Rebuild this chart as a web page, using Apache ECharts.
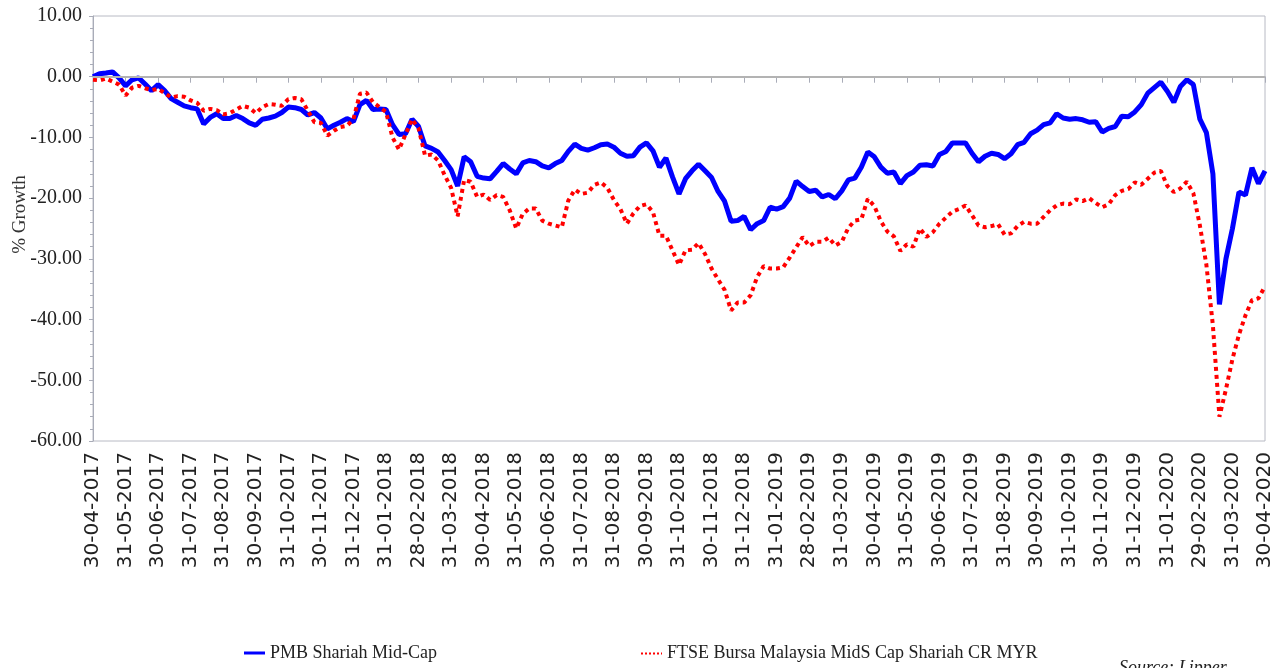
<!DOCTYPE html>
<html>
<head>
<meta charset="utf-8">
<script src="https://cdn.jsdelivr.net/npm/echarts@6/dist/echarts.min.js"></script>
<style>
  html, body { margin: 0; padding: 0; background: #fff; }
  #chart { width: 1285px; height: 668px; }
</style>
</head>
<body>
<div id="chart"></div>
<script>
// month-end tick labels, one every 5 points
const monthLabels = [
  '30-04-2017', '31-05-2017', '30-06-2017', '31-07-2017', '31-08-2017', '30-09-2017',
  '31-10-2017', '30-11-2017', '31-12-2017', '31-01-2018', '28-02-2018', '31-03-2018',
  '30-04-2018', '31-05-2018', '30-06-2018', '31-07-2018', '31-08-2018', '30-09-2018',
  '31-10-2018', '30-11-2018', '31-12-2018', '31-01-2019', '28-02-2019', '31-03-2019',
  '30-04-2019', '31-05-2019', '30-06-2019', '31-07-2019', '31-08-2019', '30-09-2019',
  '31-10-2019', '30-11-2019', '31-12-2019', '31-01-2020', '29-02-2020', '31-03-2020',
  '30-04-2020'
]
const POINTS_PER_MONTH = 5

const pmbShariahMidCap = [
  0.0, 0.5, 0.6, 0.8, -0.2, -1.5, -0.5, -0.2, -1.2, -2.3,
  -1.3, -2.3, -3.6, -4.2, -4.8, -5.1, -5.3, -7.8, -6.7, -6.1,
  -6.9, -6.9, -6.4, -6.9, -7.6, -8.0, -7.0, -6.8, -6.5, -5.9,
  -5.0, -5.1, -5.4, -6.3, -5.9, -6.8, -8.6, -8.0, -7.5, -6.9,
  -7.4, -4.6, -3.9, -5.4, -5.3, -5.4, -7.9, -9.5, -9.4, -7.0,
  -8.2, -11.4, -11.8, -12.4, -13.8, -15.3, -18.0, -13.2, -14.0, -16.4,
  -16.7, -16.8, -15.6, -14.3, -15.2, -16.0, -14.2, -13.8, -14.0, -14.7,
  -15.0, -14.3, -13.8, -12.3, -11.1, -11.8, -12.1, -11.7, -11.2, -11.1,
  -11.6, -12.6, -13.1, -13.0, -11.6, -10.9, -12.2, -14.9, -13.4, -16.5,
  -19.3, -16.8, -15.5, -14.4, -15.5, -16.6, -18.9, -20.5, -23.8, -23.7,
  -23.0, -25.2, -24.2, -23.7, -21.5, -21.8, -21.4, -20.0, -17.2, -18.1,
  -18.9, -18.7, -19.8, -19.4, -20.1, -18.8, -17.0, -16.7, -14.9, -12.4,
  -13.2, -14.9, -15.9, -15.7, -17.6, -16.3, -15.7, -14.6, -14.5, -14.7,
  -12.8, -12.3, -10.9, -10.9, -10.9, -12.6, -14.0, -13.1, -12.6, -12.8,
  -13.5, -12.7, -11.2, -10.8, -9.4, -8.8, -7.9, -7.6, -6.1, -6.8,
  -7.0, -6.9, -7.1, -7.5, -7.4, -9.1, -8.5, -8.2, -6.5, -6.6,
  -5.8, -4.6, -2.7, -1.8, -0.9, -2.4, -4.2, -1.6, -0.5, -1.3,
  -7.0, -9.2, -16.0, -37.5, -30.0, -25.0, -19.0, -19.5, -15.0, -17.6,
  -15.5
]

const ftseMidsCapShariah = [
  -0.5, -0.6, -0.3, -0.8, -1.3, -3.1, -1.8, -1.5, -1.9, -2.2,
  -2.0, -2.7, -3.4, -3.2, -3.3, -3.9, -4.3, -5.6, -5.3, -5.5,
  -6.2, -6.0, -5.4, -4.8, -5.1, -6.0, -5.0, -4.5, -4.6, -4.8,
  -3.7, -3.5, -3.7, -5.6, -7.5, -7.6, -9.7, -8.9, -8.3, -8.1,
  -7.0, -2.8, -2.6, -4.2, -5.0, -5.8, -10.0, -12.0, -9.5, -7.0,
  -8.5, -13.0, -12.8, -13.8, -16.2, -18.3, -23.0, -17.0, -17.3, -19.8,
  -19.4, -20.3, -19.5, -19.8, -22.0, -25.0, -22.6, -21.7, -21.7, -23.7,
  -24.2, -24.5, -24.8, -20.4, -18.6, -19.3, -19.1, -17.8, -17.4, -18.3,
  -20.3, -21.8, -24.2, -22.5, -21.3, -21.0, -22.3, -26.2, -26.2, -28.6,
  -31.0, -28.6, -28.5, -27.4, -29.2, -31.6, -33.4, -35.1, -38.5, -37.2,
  -37.2, -36.0, -33.0, -31.2, -31.6, -31.6, -31.4, -29.8, -28.1, -26.4,
  -27.9, -27.2, -27.2, -26.5, -27.8, -27.2, -24.9, -23.7, -23.5, -20.1,
  -21.3, -23.8, -25.5, -26.3, -28.7, -27.6, -28.0, -25.0, -26.4, -25.6,
  -24.2, -23.2, -22.2, -21.8, -21.2, -22.8, -24.5, -24.8, -24.6, -24.3,
  -26.0, -25.8, -24.6, -23.9, -24.2, -24.2, -23.1, -22.0, -21.2, -20.9,
  -21.0, -20.2, -20.5, -20.0, -20.8, -21.5, -21.0, -19.5, -18.8, -18.5,
  -17.4, -17.8, -16.8, -15.8, -15.5, -18.0, -19.0, -18.4, -17.3, -19.2,
  -24.5, -31.0, -41.0, -56.0, -51.5, -46.5, -42.5, -39.3, -36.8, -36.5,
  -34.5
]

const categories = pmbShariahMidCap.map((v, i) => i)
const axisColor = '#a9acb8'

const myChart = echarts.init(document.getElementById('chart'))
myChart.setOption({
  animation: false,
  backgroundColor: '#fff',
  grid: {
    left: 93,
    right: 20,
    top: 16,
    bottom: 227,
    outerBoundsMode: 'none',
    show: true,
    borderColor: '#b8bac4',
    borderWidth: 1
  },
  legend: {
    left: 244,
    top: 644,
    padding: 0,
    itemGap: 204,
    itemWidth: 21,
    itemHeight: 3,
    textStyle: { fontFamily: 'Liberation Serif', fontSize: 18, color: '#222' },
    data: [
      {
        name: 'PMB Shariah Mid-Cap',
        icon: 'path://M0,0H21V3H0Z',
        itemStyle: { color: '#0000ff' }
      },
      {
        name: 'FTSE Bursa Malaysia MidS Cap Shariah CR MYR',
        icon: 'path://M0,1H2V3H0Z M4,1H6V3H4Z M8,1H10V3H8Z M12,1H14V3H12Z M16,1H18V3H16Z M20,1H21V3H20Z M0,0H0.01V0.01H0Z',
        itemStyle: { color: '#ff0000' }
      }
    ]
  },
  xAxis: {
    type: 'category',
    data: categories,
    boundaryGap: false,
    axisLine: { lineStyle: { color: axisColor, width: 1 } },
    axisTick: {
      interval: POINTS_PER_MONTH - 1,
      length: 6,
      lineStyle: { color: axisColor }
    },
    axisLabel: {
      interval: POINTS_PER_MONTH - 1,
      rotate: 90,
      margin: 11,
      fontFamily: 'DejaVu Sans',
      fontSize: 20,
      color: '#222',
      formatter: (v, i) => monthLabels[i / POINTS_PER_MONTH]
    },
    splitLine: { show: false }
  },
  yAxis: {
    type: 'value',
    min: -60,
    max: 10,
    interval: 10,
    name: '% Growth',
    nameLocation: 'middle',
    nameGap: 63,
    nameMoveOverlap: false,
    nameTextStyle: {
      fontFamily: 'Liberation Serif',
      fontSize: 19,
      color: '#333',
      padding: [0, 0, 0, 28]
    },
    axisLine: { show: true, lineStyle: { color: axisColor, width: 1 } },
    axisTick: { show: true, length: 4, lineStyle: { color: axisColor } },
    minorTick: { show: true, splitNumber: 5, length: 3, lineStyle: { color: axisColor } },
    axisLabel: {
      margin: 11,
      fontFamily: 'Liberation Serif',
      fontSize: 20,
      color: '#222',
      formatter: v => v.toFixed(2)
    },
    splitLine: { show: false }
  },
  series: [
    {
      name: 'PMB Shariah Mid-Cap',
      type: 'line',
      data: pmbShariahMidCap,
      symbol: 'none',
      lineStyle: { color: '#0000ff', width: 5 },
      itemStyle: { color: '#0000ff' },
      markLine: {
        silent: true,
        symbol: ['none', 'none'],
        label: { show: false },
        lineStyle: { color: '#b3b3b3', width: 2, type: 'solid' },
        data: [{ yAxis: 0 }]
      }
    },
    {
      name: 'FTSE Bursa Malaysia MidS Cap Shariah CR MYR',
      type: 'line',
      data: ftseMidsCapShariah,
      symbol: 'none',
      lineStyle: { color: '#ff0000', width: 4, type: 'dotted' },
      itemStyle: { color: '#ff0000' }
    }
  ],
  graphic: [{
    type: 'text',
    left: 1119,
    top: 659,
    style: {
      text: 'Source: Lipper',
      font: 'italic 18px "Liberation Serif"',
      fill: '#222'
    }
  }]
})
</script>
</body>
</html>
